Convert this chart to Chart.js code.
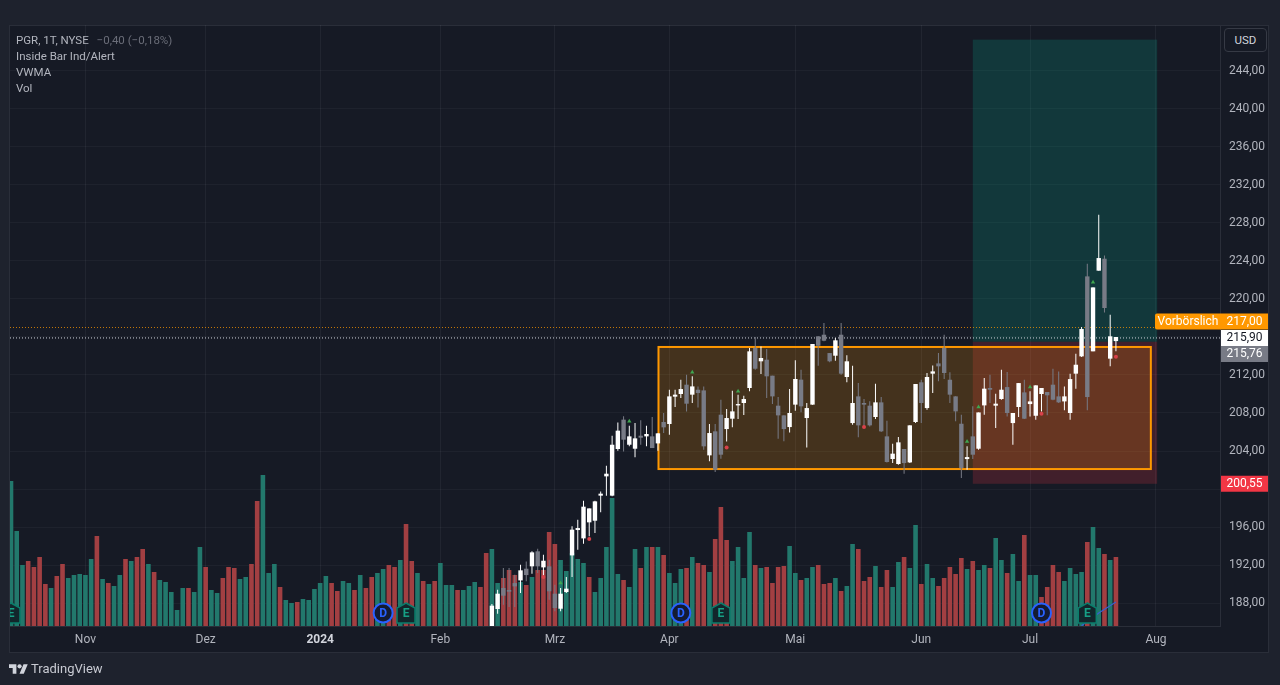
<!DOCTYPE html>
<html lang="de">
<head>
<meta charset="utf-8">
<title>PGR, 1T, NYSE</title>
<script src="https://cdn.jsdelivr.net/npm/chart.js@4/dist/chart.umd.min.js"></script>
<style>
    html, body { margin: 0; padding: 0; width: 1280px; height: 685px; overflow: hidden; background: #1e222d; font-family: Roboto, sans-serif; }
    #panel { position: absolute; left: 9px; top: 25px; width: 1258px; height: 626px; background: #161a25; border: 1px solid #2a2e39; }
    canvas { position: absolute; left: 0; top: 0; }
    #leyenda { position: absolute; left: 16px; top: 31.5px; font-size: 11.5px; line-height: 16px; color: #b2b5be; }
    #leyenda span { color: #6a6d78; margin-left: 5px; }
    #usd { position: absolute; left: 1224px; top: 28px; width: 41px; height: 22px; border: 1px solid #363a45; border-radius: 4px; background: #161a25; color: #d1d4dc; font-size: 11.5px; line-height: 22px; text-align: center; }
    #marca { position: absolute; left: 9px; top: 660px; color: #c8cad2; font-size: 13px; line-height: 18px; display: flex; align-items: center; gap: 3px; }
</style>
</head>
<body>
<div id="panel"></div>
<canvas id="grafica" width="1280" height="685"></canvas>
<div id="leyenda">
    <div>PGR, 1T, NYSE <span>−0,40 (−0,18%)</span></div>
    <div>Inside Bar Ind/Alert</div>
    <div>VWMA</div>
    <div>Vol</div>
</div>
<div id="usd">USD</div>
<div id="marca">
    <svg width="19" height="15" viewBox="0 0 36 28"><path fill="#d1d4dc" d="M14 22H7V11H0V4h14v18zM28 22h-8l7.5-18h8L28 22z"/><circle fill="#d1d4dc" cx="20" cy="8" r="4"/></svg>
    <span>TradingView</span>
</div>
<script>
// eje de tiempo: indice de barra de cada mes
const mesesIdx = [13, 34, 54, 75, 95, 115, 137, 159, 178, 200];
const mesesTxt = ['Nov', 'Dez', '2024', 'Feb', 'Mrz', 'Apr', 'Mai', 'Jun', 'Jul', 'Aug'];
const precios = [188, 192, 196, 200, 204, 208, 212, 216, 220, 224, 228, 232, 236, 240, 244];
const preciosOcultos = [200, 216]; // los tapan las etiquetas

// volumen en millones (aprox.), una barra por sesion
const volumen = [
    5.80, 3.80, 2.44, 2.60, 2.36, 2.76, 1.68, 1.52, 2.00, 2.48,
    1.92, 2.04, 2.08, 2.04, 2.68, 3.60, 1.88, 1.72, 1.60, 2.04,
    2.68, 2.60, 2.76, 3.08, 2.48, 2.16, 1.84, 1.76, 1.36, 0.64,
    1.52, 1.52, 1.36, 3.16, 2.36, 1.44, 1.32, 1.92, 2.36, 2.32,
    1.88, 1.96, 2.48, 5.00, 6.04, 2.12, 2.48, 1.56, 1.04, 0.92,
    0.96, 1.08, 1.04, 1.48, 1.72, 2.00, 1.72, 1.40, 1.80, 1.72,
    1.44, 2.04, 1.52, 1.96, 2.12, 2.28, 2.44, 2.36, 2.64, 4.08,
    2.60, 2.12, 1.80, 1.68, 1.80, 2.52, 1.64, 1.64, 1.44, 1.44,
    1.60, 1.76, 1.56, 2.92, 3.08, 1.72, 1.92, 2.24, 2.04, 1.76,
    1.64, 1.96, 2.24, 2.24, 3.76, 3.28, 2.64, 2.20, 2.92, 2.68,
    2.52, 1.96, 1.36, 1.92, 3.16, 5.12, 2.08, 1.84, 1.56, 3.08,
    2.32, 3.16, 3.16, 3.16, 2.84, 2.12, 1.72, 2.28, 2.32, 2.76,
    2.52, 2.44, 2.16, 3.48, 4.76, 3.44, 2.60, 3.16, 1.92, 3.76,
    2.44, 2.32, 2.36, 1.72, 2.36, 2.40, 3.20, 2.12, 1.84, 1.92,
    2.36, 2.44, 1.68, 1.72, 1.92, 1.40, 1.60, 3.28, 3.08, 1.80,
    1.96, 2.40, 1.56, 2.24, 1.56, 2.56, 2.76, 2.32, 4.04, 1.68,
    2.48, 1.92, 1.60, 1.92, 2.36, 2.08, 2.72, 2.28, 2.60, 2.24,
    2.44, 2.32, 3.52, 2.64, 2.12, 2.88, 1.80, 3.64, 2.04, 2.04,
    1.16, 1.56, 2.44, 2.16, 1.80, 2.32, 2.08, 2.16, 3.36, 3.96,
    3.12, 2.88, 2.64, 2.76
];
// barras de volumen en rojo
const volumenRojo = [
    3, 4, 5, 6, 8, 9, 15, 17, 20, 22, 23, 25, 31, 34, 37, 38, 39, 42, 43, 47, 50, 56, 57, 60, 62, 63,
    66, 67, 69, 70, 72, 74, 78, 82, 83, 86, 87, 88, 90, 92, 93, 94, 95, 101, 107, 110, 112, 114, 118,
    120, 121, 123, 124, 125, 130, 132, 133, 134, 135, 138, 141, 142, 143, 145, 148, 149, 150, 152,
    153, 156, 159, 162, 163, 164, 165, 166, 168, 171, 174, 177, 180, 181, 182, 183, 188, 191, 193
];

// velas visibles, empiezan en la barra 84 (antes quedan debajo del eje)
const primeraVela = 84;
const aperturas = [
    184.40, 187.37, 189.58, 189.37, 190.10, 190.38, 191.61, 191.86, 193.44, 191.75,
    191.86, 188.98, 187.40, 189.16, 193.01, 195.68, 194.80, 196.49, 196.66, 199.30,
    201.33, 199.30, 204.21, 207.30, 204.66, 204.24, 205.61, 205.54, 205.54, 204.80,
    207.05, 206.84, 209.72, 210.00, 210.98, 209.93, 210.45, 210.38, 203.54, 206.07,
    207.82, 206.31, 207.40, 208.80, 209.05, 210.63, 214.84, 213.44, 213.61, 211.93,
    208.77, 207.75, 206.52, 208.88, 211.51, 207.47, 208.88, 216.07, 216.24, 214.31,
    214.03, 216.24, 211.79, 206.94, 209.75, 209.05, 208.77, 207.58, 209.12, 205.54,
    203.16, 202.63, 204.21, 202.80, 207.05, 211.23, 208.52, 212.14, 213.22, 214.84,
    211.50, 209.75, 206.87, 203.15, 205.54, 204.24, 208.80, 210.63, 208.77, 209.47,
    210.73, 206.94, 208.63, 210.17, 208.94, 207.71, 210.00, 210.21, 210.98, 209.75,
    209.22, 208.00, 212.14, 213.96, 222.38, 214.49, 222.98, 224.24, 213.72, 215.57
];
const cierres = [
    187.72, 188.98, 188.77, 189.19, 189.75, 191.44, 190.94, 193.33, 191.86, 192.45,
    189.23, 187.47, 188.98, 189.51, 195.72, 195.89, 198.14, 197.96, 198.70, 199.51,
    201.61, 204.66, 206.14, 205.19, 205.54, 205.33, 205.40, 205.79, 204.31, 205.86,
    206.49, 209.75, 209.93, 210.52, 208.98, 210.80, 210.10, 204.49, 205.89, 202.03,
    203.61, 207.47, 208.17, 208.94, 209.47, 214.49, 212.66, 213.79, 211.86, 209.75,
    207.75, 206.31, 208.00, 211.58, 208.70, 208.52, 215.26, 215.08, 215.61, 213.44,
    215.65, 212.14, 213.44, 209.05, 206.70, 208.88, 206.70, 209.12, 206.07, 202.84,
    203.72, 204.91, 202.73, 206.70, 211.05, 209.05, 211.79, 212.38, 212.91, 212.21,
    209.93, 208.17, 202.20, 203.36, 203.61, 208.06, 210.56, 210.45, 208.98, 210.45,
    208.00, 208.00, 211.15, 207.40, 209.22, 210.91, 210.63, 209.86, 209.40, 209.12,
    209.75, 211.57, 213.08, 216.84, 209.68, 221.22, 224.31, 219.05, 216.07, 216.00
];
const maximos = [
    187.89, 189.40, 191.68, 191.68, 190.98, 192.03, 192.38, 193.44, 193.72, 193.09,
    192.56, 189.93, 189.58, 190.73, 196.07, 196.77, 198.77, 197.96, 198.77, 199.75,
    202.45, 205.61, 207.01, 207.65, 206.66, 206.94, 207.23, 206.66, 207.58, 205.86,
    208.00, 210.45, 210.45, 211.51, 212.03, 211.86, 210.80, 210.80, 206.84, 206.84,
    209.40, 208.42, 210.35, 209.93, 209.82, 214.84, 216.00, 215.01, 214.73, 211.93,
    209.68, 207.75, 210.52, 213.54, 212.56, 209.05, 215.26, 216.07, 217.47, 214.31,
    215.89, 217.47, 214.07, 212.98, 211.16, 209.47, 209.23, 211.09, 209.68, 207.19,
    204.77, 205.47, 204.21, 206.70, 211.05, 211.51, 212.21, 213.01, 214.31, 216.24,
    212.28, 209.75, 207.82, 204.49, 208.70, 208.06, 211.68, 212.03, 210.03, 212.56,
    212.31, 208.00, 211.15, 211.50, 210.28, 210.91, 210.63, 210.21, 212.66, 212.38,
    210.80, 212.14, 214.24, 217.05, 223.72, 221.22, 228.87, 224.59, 218.35, 216.00
];
const minimos = [
    184.00, 186.87, 187.82, 187.58, 187.58, 189.05, 190.28, 191.09, 191.16, 190.80,
    188.35, 187.12, 187.12, 189.05, 190.73, 193.61, 194.24, 195.02, 195.37, 197.54,
    199.30, 199.23, 204.03, 203.96, 204.49, 203.33, 204.66, 204.49, 204.31, 204.03,
    205.89, 205.72, 208.63, 209.58, 208.17, 209.05, 208.59, 204.14, 202.91, 201.79,
    203.19, 205.01, 206.49, 207.36, 207.79, 210.28, 212.56, 212.10, 209.58, 208.94,
    205.30, 205.02, 205.96, 208.24, 208.07, 204.38, 208.88, 212.98, 215.54, 213.33,
    213.51, 212.03, 211.23, 206.77, 205.44, 206.59, 206.59, 207.37, 206.00, 202.80,
    202.73, 202.56, 201.61, 202.73, 206.94, 206.94, 208.35, 210.10, 211.33, 211.57,
    209.05, 207.12, 201.15, 202.03, 203.15, 204.14, 207.82, 209.05, 206.42, 209.40,
    207.64, 204.66, 207.57, 207.36, 207.64, 207.29, 208.17, 207.75, 209.33, 209.05,
    208.28, 207.29, 210.56, 213.89, 208.28, 214.49, 222.98, 218.59, 212.91, 214.49
];

// indicador Inside Bar
const alertaVerdeIdx = [96, 108, 119, 127, 167, 169, 178, 189];
const alertaVerde = [190.10, 207.12, 212.28, 210.28, 205.01, 208.63, 210.73, 221.75];
const alertaRojaIdx = [93, 101, 125, 149, 180, 193];
const alertaRoja = [190.73, 194.73, 204.38, 206.52, 207.92, 213.92];

// tramo visible de la VWMA
const vwmaIdx = [187, 190, 193];
const vwma = [185.60, 186.95, 188.10];

// dibujos sobre el grafico
const posicion = { desde: 168, hasta: 200.2, objetivo: 247.3, entrada: 215.5, stop: 200.55 };
const caja = { desde: 113.1, hasta: 199.1, arriba: 214.95, abajo: 202.1 };
const preMercado = 217.00;
const ultimoPrecio = 215.90;
const dividendosIdx = [65, 117, 180];
const resultadosIdx = [0, 69, 124, 188];

const fuente = 'Roboto, sans-serif';
const pxPorBarra = 5.725;

const coloresVela = aperturas.map((a, i) => cierres[i] >= a ? '#ffffff' : '#787b86');

function etiqueta(ctx, texto, x, y, w, fondo, color, redondoIzq) {
    ctx.fillStyle = fondo;
    ctx.beginPath();
    ctx.roundRect(x, y - 8, w, 16, redondoIzq ? [2, 0, 0, 2] : 0);
    ctx.fill();
    ctx.fillStyle = color;
    ctx.font = '12px ' + fuente;
    ctx.textAlign = 'center';
    ctx.textBaseline = 'middle';
    ctx.fillText(texto, x + w / 2, y + 0.5);
}

// rectangulos de la posicion y la caja naranja, debajo de las velas
const dibujos = {
    id: 'dibujos',
    beforeDatasetsDraw(chart) {
        const { ctx, scales: { x, y } } = chart;
        ctx.save();
        const x1 = x.getPixelForValue(posicion.desde), x2 = x.getPixelForValue(posicion.hasta);
        const yObj = y.getPixelForValue(posicion.objetivo), yEnt = y.getPixelForValue(posicion.entrada), yStop = y.getPixelForValue(posicion.stop);
        ctx.fillStyle = 'rgba(8,153,129,0.24)';
        ctx.fillRect(x1, yObj, x2 - x1, yEnt - yObj);
        ctx.fillStyle = 'rgba(242,54,69,0.2)';
        ctx.fillRect(x1, yEnt, x2 - x1, yStop - yEnt);

        const cx1 = x.getPixelForValue(caja.desde), cx2 = x.getPixelForValue(caja.hasta);
        const cy1 = y.getPixelForValue(caja.arriba), cy2 = y.getPixelForValue(caja.abajo);
        ctx.fillStyle = 'rgba(255,152,0,0.2)';
        ctx.fillRect(cx1, cy1, cx2 - cx1, cy2 - cy1);
        ctx.strokeStyle = '#ff9800';
        ctx.lineWidth = 2;
        ctx.strokeRect(cx1, cy1, cx2 - cx1, cy2 - cy1);
        ctx.restore();
    },
    afterDatasetsDraw(chart) {
        const { ctx, chartArea, scales: { x } } = chart;
        const yIcono = chartArea.bottom - 13;
        ctx.save();
        ctx.beginPath();
        ctx.rect(chartArea.left, chartArea.top, chartArea.width, chartArea.height);
        ctx.clip();
        ctx.textAlign = 'center';
        ctx.textBaseline = 'middle';
        ctx.font = 'bold 12px ' + fuente;
        dividendosIdx.forEach(i => {
            const px = x.getPixelForValue(i);
            ctx.beginPath();
            ctx.arc(px, yIcono, 9.5, 0, Math.PI * 2);
            ctx.fillStyle = '#141b33';
            ctx.fill();
            ctx.strokeStyle = '#2962ff';
            ctx.lineWidth = 2;
            ctx.stroke();
            ctx.fillStyle = '#2962ff';
            ctx.fillText('D', px, yIcono + 0.5);
        });
        resultadosIdx.forEach(i => {
            const px = x.getPixelForValue(i);
            ctx.beginPath();
            ctx.moveTo(px, yIcono - 10);
            ctx.lineTo(px + 9, yIcono - 5);
            ctx.lineTo(px + 9, yIcono + 10);
            ctx.lineTo(px - 9, yIcono + 10);
            ctx.lineTo(px - 9, yIcono - 5);
            ctx.closePath();
            ctx.fillStyle = '#12262b';
            ctx.fill();
            ctx.strokeStyle = '#0b7d6c';
            ctx.lineWidth = 1.5;
            ctx.stroke();
            ctx.fillStyle = '#16a085';
            ctx.fillText('E', px, yIcono + 1);
        });
        ctx.restore();
    },
    // etiquetas de precio del eje derecho
    afterDraw(chart) {
        const { ctx, chartArea, scales: { y } } = chart;
        const der = chartArea.right + 1;
        ctx.save();
        etiqueta(ctx, 'Vorbörslich', der - 66, y.getPixelForValue(preMercado) - 6, 66, '#ff9800', '#ffffff', true);
        etiqueta(ctx, '217,00', der, y.getPixelForValue(preMercado) - 6, 47, '#ff9800', '#ffffff');
        etiqueta(ctx, '215,90', der, y.getPixelForValue(ultimoPrecio), 47, '#ffffff', '#131722');
        etiqueta(ctx, '215,76', der, y.getPixelForValue(ultimoPrecio) + 16, 47, '#787b86', '#ffffff');
        etiqueta(ctx, '200,55', der, y.getPixelForValue(posicion.stop), 47, '#f23645', '#ffffff');
        ctx.restore();
    }
};

const xMin = -0.175, xMax = 211.18;

new Chart(document.getElementById('grafica'), {
    type: 'bar',
    data: {
        datasets: [
            {
                type: 'line', showLine: false, order: 1,
                data: alertaVerdeIdx.map((v, i) => ({ x: v, y: alertaVerde[i] })),
                pointStyle: 'triangle', pointRadius: 2.5, pointBackgroundColor: '#3fa650', pointBorderWidth: 0
            },
            {
                type: 'line', showLine: false, order: 1,
                data: alertaRojaIdx.map((v, i) => ({ x: v, y: alertaRoja[i] })),
                pointStyle: 'circle', pointRadius: 2, pointBackgroundColor: '#d8414a', pointBorderWidth: 0
            },
            {
                order: 2, yAxisID: 'y', grouped: false, barThickness: 4.4, inflateAmount: 0,
                data: aperturas.map((a, i) => ({ x: primeraVela + i, y: [a, cierres[i]] })),
                backgroundColor: coloresVela
            },
            {
                order: 3, yAxisID: 'y', grouped: false, barThickness: 1, inflateAmount: 0,
                data: maximos.map((m, i) => ({ x: primeraVela + i, y: [minimos[i], m] })),
                backgroundColor: coloresVela
            },
            {
                type: 'line', order: 4, borderColor: '#3a5fd0', borderWidth: 1.2, pointRadius: 0,
                data: vwmaIdx.map((v, i) => ({ x: v, y: vwma[i] }))
            },
            {
                type: 'line', order: 4, borderColor: 'rgba(255,152,0,0.75)', borderWidth: 1, borderDash: [1, 2], pointRadius: 0,
                data: [{ x: xMin, y: preMercado }, { x: xMax, y: preMercado }]
            },
            {
                type: 'line', order: 4, borderColor: '#d1d4dc', borderWidth: 1, borderDash: [1, 2], pointRadius: 0,
                data: [{ x: xMin, y: ultimoPrecio }, { x: xMax, y: ultimoPrecio }]
            },
            {
                order: 5, yAxisID: 'yVol', grouped: false, barThickness: 4.6, inflateAmount: 0,
                data: volumen.map((v, i) => ({ x: i, y: v })),
                backgroundColor: volumen.map((v, i) => volumenRojo.includes(i) ? '#a23f42' : '#22786c')
            }
        ]
    },
    plugins: [dibujos],
    options: {
        responsive: false,
        animation: false,
        events: [],
        layout: { padding: { left: 10, right: 12, top: 25, bottom: 33 } },
        plugins: { legend: { display: false }, tooltip: { enabled: false } },
        scales: {
            x: {
                type: 'linear', offset: false, min: xMin, max: xMax,
                grid: { offset: false, color: 'rgba(240,243,250,0.055)', drawTicks: false },
                border: { color: '#2a2e39' },
                afterBuildTicks(eje) { eje.ticks = mesesIdx.map(v => ({ value: v })); },
                afterFit(eje) { eje.height = 26; },
                ticks: {
                    autoSkip: false, maxRotation: 0, padding: 7,
                    color: ctx => ctx.tick && ctx.tick.value === 54 ? '#d1d4dc' : '#b2b5be',
                    font: ctx => ({ family: fuente, size: 12, weight: ctx.tick && ctx.tick.value === 54 ? 'bold' : 'normal' }),
                    callback: v => mesesTxt[mesesIdx.indexOf(v)]
                }
            },
            y: {
                position: 'right', min: 185.58, max: 248.84,
                grid: { color: 'rgba(240,243,250,0.04)', drawTicks: false },
                border: { color: '#2a2e39' },
                afterBuildTicks(eje) { eje.ticks = precios.map(v => ({ value: v })); },
                afterFit(eje) { eje.width = 48; },
                ticks: {
                    padding: 9, color: '#b2b5be', font: { family: fuente, size: 12 },
                    callback: v => preciosOcultos.includes(v) ? '' : v.toFixed(2).replace('.', ',')
                }
            },
            yVol: { display: false, position: 'left', min: 0, max: 24.04 }
        }
    }
});
</script>
</body>
</html>
